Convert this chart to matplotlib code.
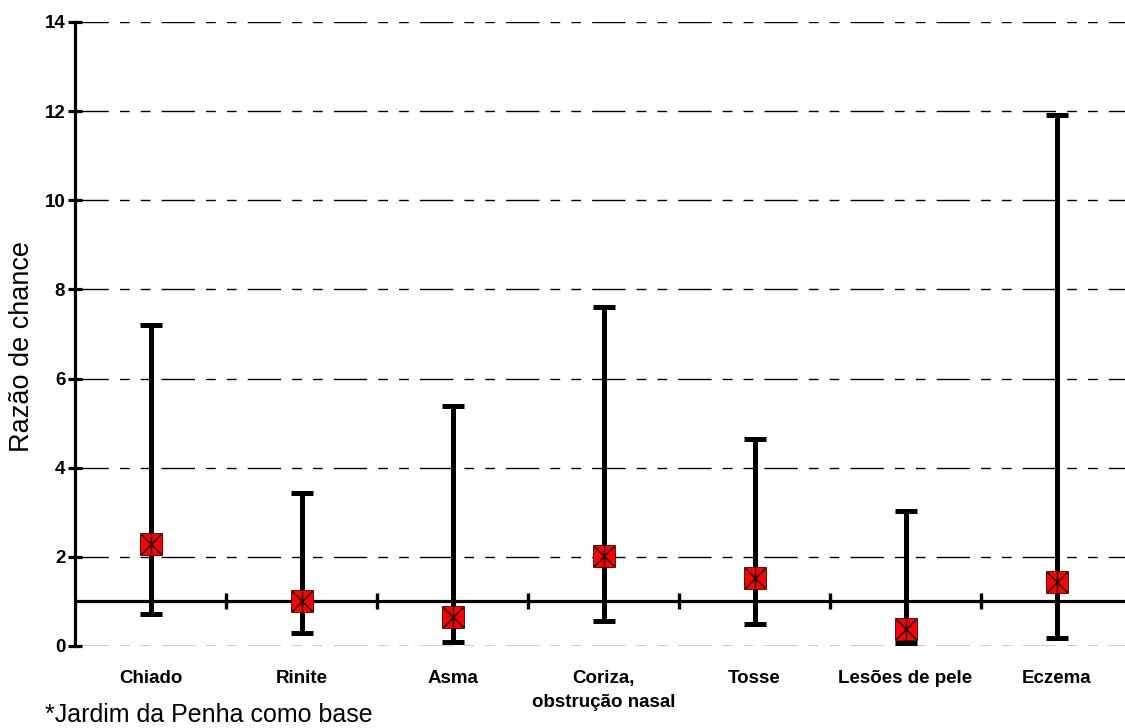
import matplotlib
matplotlib.use("Agg")
import matplotlib.pyplot as plt
import numpy as np

plt.rcParams['font.family'] = ['Liberation Sans', 'DejaVu Sans']

categories = ["Chiado", "Rinite", "Asma", "Coriza,\nobstrução nasal", "Tosse", "Lesões de pele", "Eczema"]
odds = [2.28, 1.00, 0.66, 2.03, 1.52, 0.38, 1.43]
upper = [7.21, 3.43, 5.38, 7.61, 4.64, 3.03, 11.92]
lower = [0.72, 0.30, 0.09, 0.56, 0.49, 0.07, 0.17]
yticks = [0, 2, 4, 6, 8, 10, 12, 14]
baseline = 1.0
ylabel = "Razão de chance"
footnote = "*Jardim da Penha como base"

W, H = 1125, 728
fig = plt.figure(figsize=(W / 100, H / 100), dpi=100)
left, right, top, bottom = 75, 1132, 22, 646
ax = fig.add_axes([left / W, 1 - bottom / H, (right - left) / W, (bottom - top) / H])

x = np.arange(len(categories))
ax.set_xlim(-0.5, len(categories) - 0.5)
ax.set_ylim(0, 14)

# grid lines
for yv in yticks:
    ax.axhline(yv, color='black', lw=1.0, dashes=(24, 8, 7, 8, 7, 8), zorder=1)

# baseline
ax.axhline(baseline, color='black', lw=2.3, zorder=2)
bounds = np.arange(len(categories) - 1) + 0.5
ax.plot(bounds, [baseline] * len(bounds), ls='none', marker='|', ms=11, mew=2.4,
        color='black', zorder=2)

odds_a = np.array(odds)
yerr = np.vstack([odds_a - np.array(lower), np.array(upper) - odds_a])
ax.errorbar(x, odds_a, yerr=yerr, fmt='none', ecolor='black', elinewidth=3.6,
            capsize=8, capthick=3.6, zorder=3)
ax.plot(x, odds_a, ls='none', marker='s', ms=16, mfc='#ff0000', mec='#400000', mew=0.6, zorder=4)
ax.plot(x, odds_a, ls='none', marker='x', ms=15, mec='black', mew=1.0, zorder=5)
ax.plot(x, odds_a, ls='none', marker='|', ms=15, mec='black', mew=1.0, zorder=5)

for s in ['top', 'right', 'bottom']:
    ax.spines[s].set_visible(False)
ax.spines['left'].set_linewidth(2.3)

ax.set_yticks(yticks)
ax.set_yticklabels([str(v) for v in yticks], fontsize=13.5, fontweight='bold')
ax.tick_params(axis='y', direction='inout', length=10, width=2.3, pad=2)

ax.set_xticks(x)
ax.set_xticklabels(categories, fontsize=13.5, fontweight='bold', linespacing=1.6)
ax.tick_params(axis='x', length=0, pad=17)

fig.text(22 / W, 1 - 346 / H, ylabel, fontsize=19.5, rotation=90, ha='center', va='center')
fig.text(45 / W, 1 - 715 / H, footnote, fontsize=18, ha='left', va='center')

fig.savefig("out.png", dpi=100)
